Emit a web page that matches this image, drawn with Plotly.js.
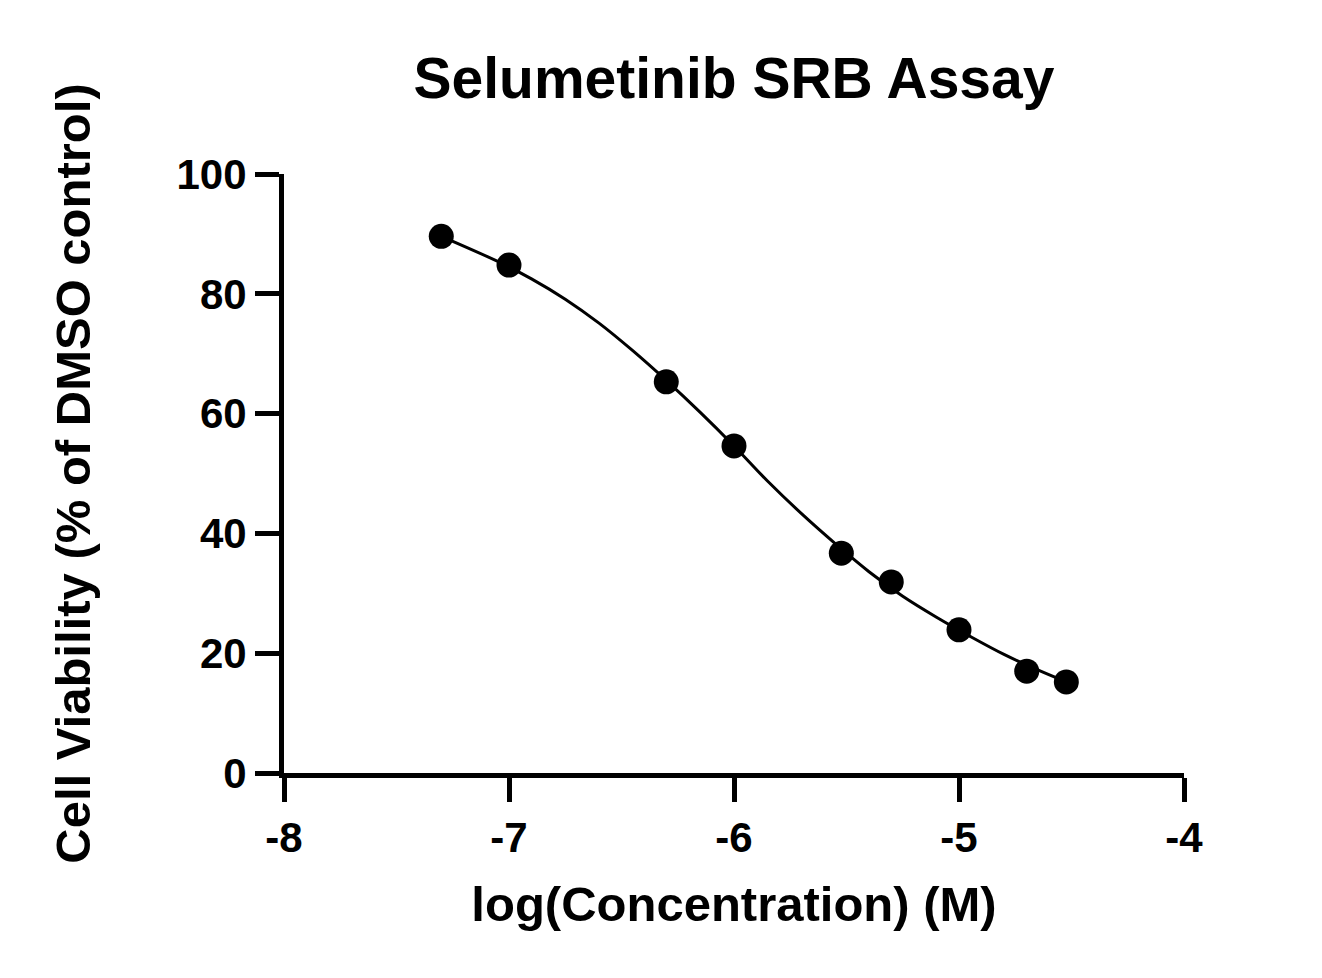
<!DOCTYPE html>
<html>
<head>
<meta charset="utf-8">
<script src="https://cdn.plot.ly/plotly-3.0.1.min.js"></script>
<style>html,body{margin:0;padding:0;background:#fff;}#chart{width:1322px;height:978px;}</style>
</head>
<body>
<div id="chart"></div>
<script>
// Measured data points: log10 concentration (M) vs viability (% of DMSO control)
const logConc = [-7.301, -7.0, -6.301, -6.0, -5.523, -5.301, -5.0, -4.699, -4.523];
const viability = [89.6, 84.8, 65.3, 54.6, 36.7, 31.9, 23.9, 17.0, 15.2];

// Fitted curve
const fitX = [-7.301, -7.05, -6.9, -6.75, -6.6, -6.45, -6.3, -6.15, -6.0, -5.85, -5.7, -5.55, -5.4, -5.25, -5.1, -4.95, -4.8, -4.65, -4.523];
const fitY = [89.6, 85.4, 82.5, 79.1, 75.1, 70.5, 65.5, 60.2, 54.6, 48.7, 43.3, 38.3, 33.6, 29.5, 26.0, 22.8, 19.8, 17.2, 15.2];

const xTickVals = [-8, -7, -6, -5, -4];
const xTickText = ['-8', '-7', '-6', '-5', '-4'];
const yTickVals = [0, 20, 40, 60, 80, 100];
const yTickText = ['0', '20', '40', '60', '80', '100'];

const FONT = '"Liberation Sans", Arial, Helvetica, sans-serif';

const traces = [
  {
    x: fitX, y: fitY, type: 'scatter', mode: 'lines',
    line: {color: '#000', width: 3, shape: 'spline', smoothing: 1},
    hoverinfo: 'skip', showlegend: false
  },
  {
    x: logConc, y: viability, type: 'scatter', mode: 'markers',
    marker: {color: '#000', size: 25, line: {width: 0}},
    showlegend: false
  }
];

const layout = {
  width: 1322, height: 978,
  margin: {l: 284, r: 138, t: 174, b: 205, pad: 0},
  paper_bgcolor: '#fff', plot_bgcolor: '#fff',
  font: {family: FONT, color: '#000'},
  title: {
    text: 'Selumetinib SRB Assay',
    font: {family: FONT, size: 57, weight: 'bold', color: '#000'},
    x: 734 / 1322, xref: 'container', xanchor: 'center',
    y: 1 - 78 / 978, yref: 'container', yanchor: 'middle'
  },
  xaxis: {
    range: [-8, -4], fixedrange: true,
    showgrid: false, zeroline: false,
    showline: true, linecolor: '#000', linewidth: 5,
    ticks: 'outside', ticklen: 24, tickwidth: 5, tickcolor: '#000',
    tickvals: xTickVals, ticktext: xTickText,
    tickfont: {family: FONT, size: 42, weight: 'bold', color: '#000'},
    title: {text: 'log(Concentration) (M)', standoff: 28,
      font: {family: FONT, size: 49, weight: 'bold', color: '#000'}}
  },
  yaxis: {
    range: [0, 100], fixedrange: true,
    showgrid: false, zeroline: false,
    showline: true, linecolor: '#000', linewidth: 5,
    ticks: 'outside', ticklen: 24, tickwidth: 5, tickcolor: '#000',
    tickvals: yTickVals, ticktext: yTickText,
    tickfont: {family: FONT, size: 42, weight: 'bold', color: '#000'},
    title: {text: 'Cell Viability (% of DMSO control)', standoff: 72,
      font: {family: FONT, size: 49, weight: 'bold', color: '#000'}}
  }
};

Plotly.newPlot('chart', traces, layout, {displayModeBar: false, staticPlot: true});
</script>
</body>
</html>
